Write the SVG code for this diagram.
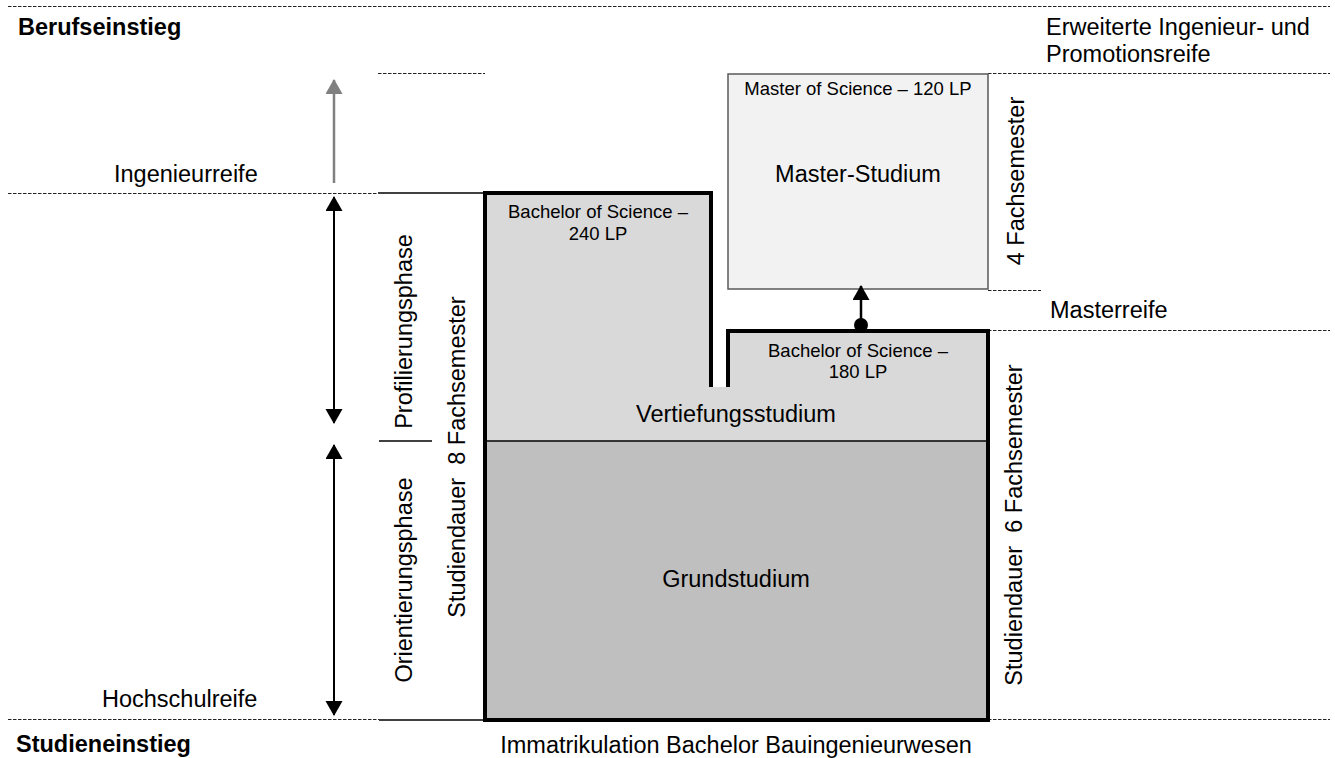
<svg xmlns="http://www.w3.org/2000/svg" width="1335" height="758" viewBox="0 0 1335 758">
<style>
text{font-family:"Liberation Sans",Arial,sans-serif;fill:#000}
.big{font-size:23.5px}
.sm{font-size:18.5px}
.b{font-weight:bold}
.mid{text-anchor:middle}
.dash{stroke:#222;stroke-width:1;stroke-dasharray:3.5 1.5;fill:none}
.solid{stroke:#000;stroke-width:1.5;fill:none}
</style>
<defs>
<marker id="ah" markerUnits="userSpaceOnUse" markerWidth="16" markerHeight="18" refX="14" refY="8.5" orient="auto-start-reverse">
<path d="M0,0 L15,8.5 L0,17 z" fill="#000"/>
</marker>
<marker id="ahg" markerUnits="userSpaceOnUse" markerWidth="16" markerHeight="18" refX="14" refY="8.5" orient="auto">
<path d="M0,0 L15,8.5 L0,17 z" fill="#808080"/>
</marker>
</defs>
<rect width="1335" height="758" fill="#fff"/>

<g id="guides">
<line class="dash" x1="8" y1="6.5" x2="1330" y2="6.5"/>
<line class="dash" x1="378" y1="73.5" x2="485" y2="73.5"/>
<line class="dash" x1="988" y1="73.5" x2="1330" y2="73.5"/>
<line class="dash" x1="8" y1="193.5" x2="378" y2="193.5"/>
<line class="solid" x1="378" y1="193" x2="485" y2="193"/>
<line class="dash" x1="988" y1="290.5" x2="1041" y2="290.5"/>
<line class="dash" x1="988" y1="330.5" x2="1330" y2="330.5"/>
<line class="solid" x1="379" y1="441" x2="432" y2="441"/>
<line class="dash" x1="8" y1="719.5" x2="379" y2="719.5"/>
<line class="solid" x1="379" y1="720" x2="485" y2="720"/>
<line class="dash" x1="988" y1="719.5" x2="1330" y2="719.5"/>
</g>

<g id="labels">
<text class="big b" x="18" y="35">Berufseinstieg</text>
<text class="big" x="1046" y="35">Erweiterte Ingenieur- und</text>
<text class="big" x="1046" y="62">Promotionsreife</text>
<text class="big" x="114" y="182">Ingenieurreife</text>
<text class="big" x="1050" y="318">Masterreife</text>
<text class="big" x="102" y="707">Hochschulreife</text>
<text class="big b" x="16" y="752">Studieneinstieg</text>
<text class="big mid" x="736" y="753">Immatrikulation Bachelor Bauingenieurwesen</text>
<text class="big mid" transform="translate(412,331.5) rotate(-90)">Profilierungsphase</text>
<text class="big mid" transform="translate(412,580) rotate(-90)">Orientierungsphase</text>
<text class="big mid" transform="translate(465,457) rotate(-90)">Studiendauer&#160; 8 Fachsemester</text>
<text class="big mid" transform="translate(1022,525) rotate(-90)">Studiendauer&#160; 6 Fachsemester</text>
<text class="big mid" transform="translate(1024,181) rotate(-90)">4 Fachsemester</text>
</g>

<g id="bachelor">
<rect x="485" y="193" width="226" height="248" fill="#d9d9d9"/>
<rect x="728" y="331" width="260" height="110" fill="#d9d9d9"/>
<rect x="485" y="387" width="503" height="54" fill="#d9d9d9"/>
<rect x="485" y="441" width="503" height="279" fill="#bfbfbf"/>
<line x1="485" y1="441" x2="988" y2="441" stroke="#000" stroke-width="1.5"/>
<path d="M711,387 V193 H485 V720 H988 V331 H728 V387" fill="none" stroke="#000" stroke-width="4" stroke-linejoin="miter"/>
<text class="sm mid" x="598" y="218">Bachelor of Science –</text>
<text class="sm mid" x="598" y="240">240 LP</text>
<text class="sm mid" x="858" y="357">Bachelor of Science –</text>
<text class="sm mid" x="858" y="378">180 LP</text>
<text class="big mid" x="736" y="422">Vertiefungsstudium</text>
<text class="big mid" x="736" y="587">Grundstudium</text>
</g>

<g id="master">
<rect x="728" y="74" width="260" height="215" fill="#f2f2f2" stroke="#595959" stroke-width="1.5"/>
<text class="sm mid" x="858" y="95">Master of Science – 120 LP</text>
<text class="big mid" x="858" y="182">Master-Studium</text>
</g>

<g id="connectors">
<line x1="334" y1="183" x2="334" y2="80" stroke="#808080" stroke-width="2.5" marker-end="url(#ahg)"/>
<line x1="334" y1="197" x2="334" y2="423" stroke="#000" stroke-width="2" marker-start="url(#ah)" marker-end="url(#ah)"/>
<line x1="334" y1="445" x2="334" y2="715" stroke="#000" stroke-width="2" marker-start="url(#ah)" marker-end="url(#ah)"/>
<circle cx="861" cy="325" r="7" fill="#000"/>
<line x1="861" y1="325" x2="861" y2="286" stroke="#000" stroke-width="2.5" marker-end="url(#ah)"/>
</g>
</svg>
